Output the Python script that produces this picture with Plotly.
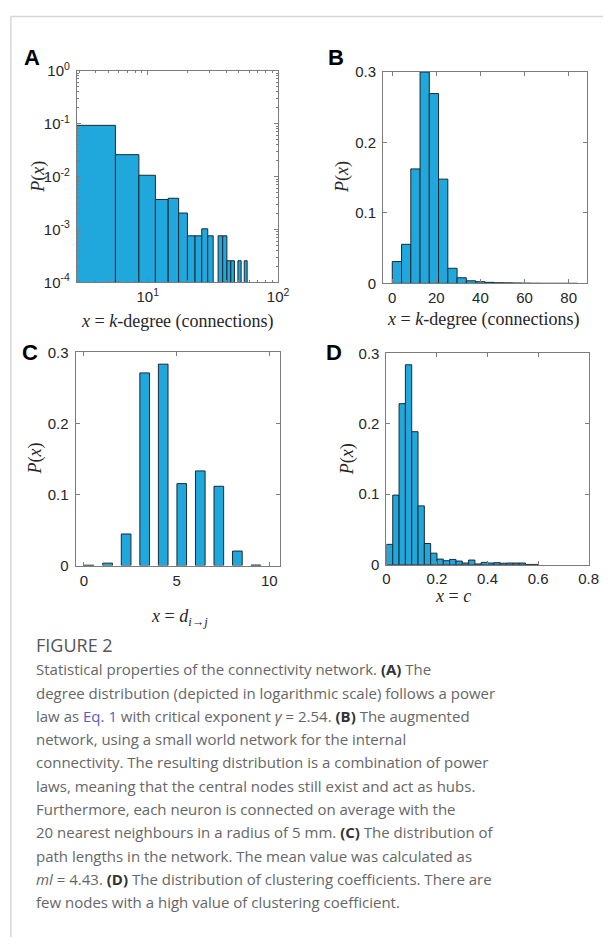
import plotly.graph_objects as go

W, H = 614, 945

# ---------------- data ----------------
# Panel A: k-degree histogram (log-log); bin left edges and probabilities
degA_left = [2.75, 5.65, 8.55, 11.45, 14.35, 17.25, 20.15, 23.05, 25.95, 28.85,
             31.75, 34.65, 37.55, 40.45, 43.35, 46.25, 49.15, 52.05, 54.95]
degA_width = 2.9
pA = [0.093, 0.026, 0.0106, 0.0037, 0.0039, 0.00205, 0.00076, 0.00076, 0.00103, 0.00076,
      None, 0.00076, 0.00076, 0.000257, 0.000257, None, 0.000257, None, 0.000257]

# Panel B: augmented network k-degree histogram
degB_left = [0, 4.2, 8.4, 12.6, 16.8, 21.0, 25.2, 29.4, 33.6, 37.8,
             42.0, 46.2, 50.4, 54.6, 58.8, 63.0, 67.2, 71.4, 75.6, 79.8]
degB_width = 4.2
pB = [0.031, 0.0555, 0.1625, 0.300, 0.2695, 0.148, 0.0215, 0.008, 0.0037, 0.0024,
      0.0015, 0.001, 0.0008, 0.0006, 0.0004, 0.0002, 0.0001, 0.0001, 0.0001, 0.0001]

# Panel C: path lengths
path_len = [0, 1, 2, 3, 4, 5, 6, 7, 8, 9]
pC = [0.0006, 0.0035, 0.0445, 0.271, 0.2833, 0.1153, 0.1332, 0.1116, 0.0205, 0.0008]

# Panel D: clustering coefficients
clus_left = [0.0, 0.025, 0.05, 0.075, 0.1, 0.125, 0.15, 0.175, 0.2, 0.225, 0.25, 0.275,
             0.3, 0.325, 0.35, 0.375, 0.4, 0.425, 0.45, 0.475, 0.5, 0.525, 0.55, 0.575]
clus_width = 0.025
pD = [0.0288, 0.0987, 0.2285, 0.2837, 0.1887, 0.0834, 0.030, 0.0163, 0.0079, 0.0056,
      0.0074, 0.0051, 0.0023, 0.0065, 0.001, 0.0032, 0.0023, 0.0028, 0.002, 0.0023,
      0.0023, 0.0023, 0.0003, 0.0003]

lin_ticks_y = [0, 0.1, 0.2, 0.3]
lin_ticks_y_text = ["0", "0.1", "0.2", "0.3"]
B_ticks = [0, 20, 40, 60, 80]
C_ticks = [0, 5, 10]
D_ticks = [0, 0.2, 0.4, 0.6, 0.8]
D_ticks_text = ["0", "0.2", "0.4", "0.6", "0.8"]
A_xticks = [10, 100]
A_xticks_text = ["10<sup>1</sup>", "10<sup>2</sup>"]
A_yticks = [1e-4, 1e-3, 1e-2, 1e-1, 1]
A_yticks_text = ["10<sup>-4</sup>", "10<sup>-3</sup>", "10<sup>-2</sup>", "10<sup>-1</sup>", "10<sup>0</sup>"]

caption_lines = [
    "Statistical properties of the connectivity network. <b><span style='color:#333'>(A)</span></b> The",
    "degree distribution (depicted in logarithmic scale) follows a power",
    "law as <span style='color:#5b5bc6'>Eq. 1</span> with critical exponent <i>γ</i> = 2.54. <b><span style='color:#333'>(B)</span></b> The augmented",
    "network, using a small world network for the internal",
    "connectivity. The resulting distribution is a combination of power",
    "laws, meaning that the central nodes still exist and act as hubs.",
    "Furthermore, each neuron is connected on average with the",
    "20 nearest neighbours in a radius of 5 mm. <b><span style='color:#333'>(C)</span></b> The distribution of",
    "path lengths in the network. The mean value was calculated as",
    "<i>ml</i> = 4.43. <b><span style='color:#333'>(D)</span></b> The distribution of clustering coefficients. There are",
    "few nodes with a high value of clustering coefficient.",
]

# ---------------- style ----------------
FILL = "#20a7db"
EDGE = "#1b2a35"
AX = "#7c7c7c"
TXT = "#262626"
SANS = "Liberation Sans, Arial, sans-serif"
SERIF = "Liberation Serif, Times New Roman, serif"
CAP = "Open Sans, Noto Sans, sans-serif"


def px_x(px):
    return px / W


def px_y(py):
    return 1 - py / H


def dom_x(a, b):
    return [a / W, b / W]


def dom_y(top, bottom):
    return [1 - bottom / H, 1 - top / H]


fig = go.Figure()

bar_style = dict(marker=dict(color=FILL, line=dict(color=EDGE, width=1)), showlegend=False,
                 hoverinfo="skip")

fig.add_trace(go.Bar(x=degA_left, y=pA, width=degA_width, offset=0, xaxis="x", yaxis="y", **bar_style))
fig.add_trace(go.Bar(x=degB_left, y=pB, width=degB_width, offset=0, xaxis="x2", yaxis="y2", **bar_style))
fig.add_trace(go.Bar(x=path_len, y=pC, width=0.52, offset=0.02, xaxis="x3", yaxis="y3", **bar_style))
fig.add_trace(go.Bar(x=clus_left, y=pD, width=clus_width, offset=0, xaxis="x4", yaxis="y4", **bar_style))


def axis(domain, anchor, **kw):
    d = dict(domain=domain, anchor=anchor, showline=True, linecolor=AX, linewidth=1,
             mirror="ticks", ticks="inside", ticklen=4, tickcolor=AX, tickwidth=1,
             showgrid=False, zeroline=False, ticklabelstandoff=3,
             tickfont=dict(family=SANS, size=15, color=TXT))
    d.update(kw)
    return d


minor_x_A = [3, 4, 5, 6, 7, 8, 9, 20, 30, 40, 50, 60, 70, 80, 90]
minor_y_A = [m * 10 ** e for e in (-4, -3, -2, -1) for m in range(2, 10)]

fig.update_layout(
    width=W, height=H, margin=dict(l=0, r=0, t=0, b=0),
    paper_bgcolor="white", plot_bgcolor="white",
    barmode="overlay",
    xaxis=axis(dom_x(74.7, 281), "y", type="log", range=[0.4564, 2],
               tickmode="array", tickvals=A_xticks, ticktext=A_xticks_text, ticklabelstandoff=1,
               minor=dict(tickvals=minor_x_A, ticks="inside", ticklen=2, tickcolor=AX)),
    yaxis=axis(dom_y(61, 277), "x", type="log", range=[-4, 0],
               tickmode="array", tickvals=A_yticks, ticktext=A_yticks_text,
               minor=dict(tickvals=minor_y_A, ticks="inside", ticklen=2, tickcolor=AX)),
    xaxis2=axis(dom_x(388.5, 597.3), "y2", range=[-4.2, 88.2], tickmode="array", tickvals=B_ticks,
                ticklabelstandoff=1),
    yaxis2=axis(dom_y(62.3, 278), "x2", range=[0, 0.3], tickmode="array",
                tickvals=lin_ticks_y, ticktext=lin_ticks_y_text),
    xaxis3=axis(dom_x(73.3, 283.3), "y3", range=[-0.45, 10.6], tickmode="array", tickvals=C_ticks,
                ticklabelstandoff=1),
    yaxis3=axis(dom_y(348.3, 566), "x3", range=[0, 0.3], tickmode="array",
                tickvals=lin_ticks_y, ticktext=lin_ticks_y_text),
    xaxis4=axis(dom_x(392, 599.3), "y4", range=[0, 0.8], tickmode="array",
                tickvals=D_ticks, ticktext=D_ticks_text, ticklabelstandoff=0),
    yaxis4=axis(dom_y(349.3, 565), "x4", range=[0, 0.3], tickmode="array",
                tickvals=lin_ticks_y, ticktext=lin_ticks_y_text),
)

ann = []


def add_text(text, px, py, size, family, color="#262626", xanchor="center", yanchor="middle", angle=0):
    ann.append(dict(text=text, x=px_x(px), y=px_y(py), xref="paper", yref="paper",
                    xanchor=xanchor, yanchor=yanchor, showarrow=False, textangle=angle,
                    font=dict(size=size, family=family, color=color)))


# panel letters
for lab, x, y in [("A", 28.7, 47.2), ("B", 340.3, 47), ("C", 26.7, 349), ("D", 338.7, 348)]:
    add_text("<b>" + lab + "</b>", x, y, 22, SANS, "#000000")

# y titles
for x, y in [(35, 169), (347, 170), (32.5, 457), (352, 457)]:
    add_text("<i>P</i>(<i>x</i>)", x, y, 18, SERIF, TXT, angle=-90)

# x titles
xlab_k = "<i>x</i> = <i>k</i>-degree (connections)"
add_text(xlab_k, 177.5, 317, 18, SERIF, TXT)
add_text(xlab_k, 492, 315, 18, SERIF, TXT)
add_text("<i>x</i> = <i>d</i><sub><i>i</i>→<i>j</i></sub>", 180, 619, 18, SERIF, TXT)
add_text("<i>x</i> = <i>c</i>", 460, 597, 18, SERIF, TXT)

# caption
add_text("FIGURE 2", 31, 647, 18, CAP, "#555555", xanchor="left")
for i, line in enumerate(caption_lines):
    add_text(line, 31, 671.7 + 23.8 * i, 15, CAP, "#666666", xanchor="left")

fig.update_layout(annotations=ann)

# page frame lines
fig.add_shape(type="line", xref="paper", yref="paper", x0=px_x(7), x1=1, y0=px_y(5.5), y1=px_y(5.5),
              line=dict(color="#d6d6d6", width=1.5))
fig.add_shape(type="line", xref="paper", yref="paper", x0=px_x(7), x1=px_x(7), y0=0, y1=px_y(5.5),
              line=dict(color="#d6d6d6", width=1.5))

fig.write_html("out.html", post_script="document.body.style.margin='0';")
